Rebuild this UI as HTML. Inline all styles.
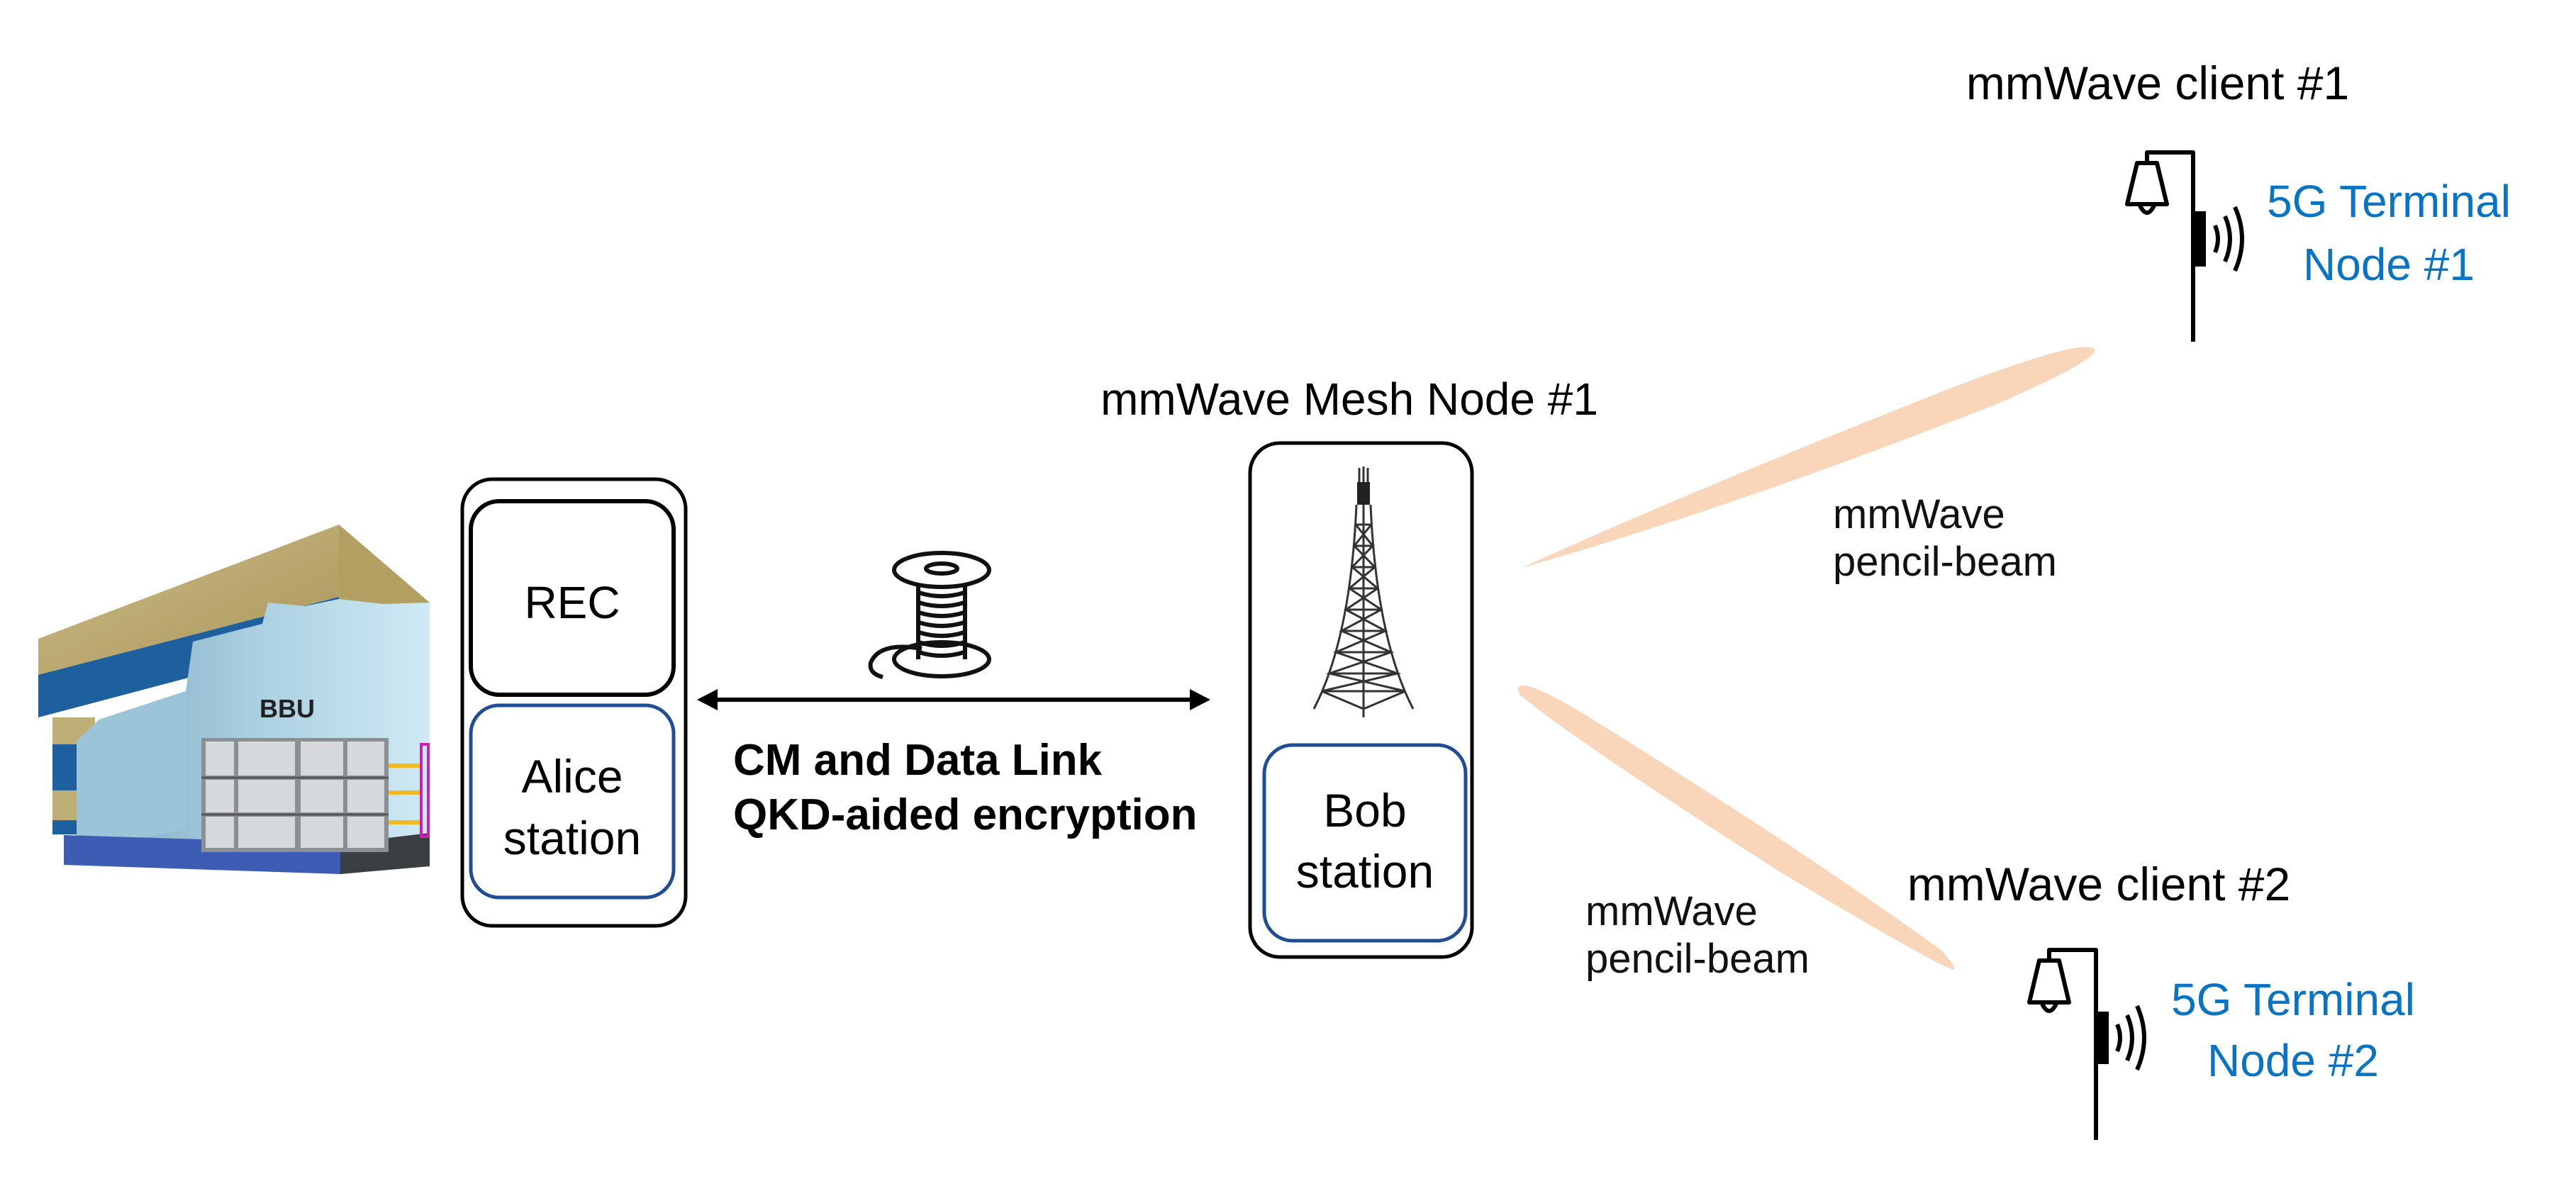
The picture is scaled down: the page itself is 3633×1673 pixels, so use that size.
<!DOCTYPE html>
<html><head><meta charset="utf-8"><style>
html,body{margin:0;padding:0;background:#fff;}
svg{display:block;}
text{font-family:"Liberation Sans",Arial,sans-serif;}
</style></head><body>
<svg width="3633" height="1673" viewBox="0 0 3633 1673" xmlns="http://www.w3.org/2000/svg">
<defs>
<linearGradient id="cut" x1="0" y1="0" x2="1" y2="0">
<stop offset="0" stop-color="#7fa6bd"/><stop offset="0.5" stop-color="#a9cfe0"/><stop offset="1" stop-color="#cfeaf5"/>
</linearGradient>
<linearGradient id="tan" x1="0" y1="0" x2="1" y2="1">
<stop offset="0" stop-color="#cdbd86"/><stop offset="1" stop-color="#a8955a"/>
</linearGradient>
</defs>

<!-- Building (BBU) -->
<polygon points="478,740 606,850 606,1180 478,1060" fill="#b39f62"/>
<polygon points="54,901 478,740 478,842 54,952" fill="url(#tan)"/>
<polygon points="54,952 478,842 478,900 54,1012" fill="#1e5f9e"/>
<rect x="74" y="1012" width="60" height="38" fill="#bfae76"/>
<rect x="74" y="1050" width="60" height="65" fill="#1e5f9e"/>
<rect x="74" y="1115" width="60" height="42" fill="#bfae76"/>
<rect x="74" y="1157" width="60" height="20" fill="#1e5f9e"/>
<polygon points="108,1200 108,1045 140,1015 262,975 272,905 370,880 378,850 430,855 478,845 540,852 606,850 606,1190" fill="url(#cut)"/>
<polygon points="108,1200 108,1045 140,1015 262,975 262,1170" fill="#9cc4d8"/>
<polygon points="90,1178 480,1190 480,1233 90,1220" fill="#3d5db5"/>
<polygon points="480,1190 606,1175 606,1222 480,1233" fill="#3a3f44"/>
<rect x="284" y="1041" width="264" height="161" fill="#8a8f94"/>
<g fill="#d6d9dc">
<rect x="290" y="1046" width="40" height="48"/><rect x="336" y="1046" width="80" height="48"/><rect x="424" y="1046" width="60" height="48"/><rect x="490" y="1046" width="52" height="48"/>
<rect x="290" y="1100" width="40" height="46"/><rect x="336" y="1100" width="80" height="46"/><rect x="424" y="1100" width="60" height="46"/><rect x="490" y="1100" width="52" height="46"/>
<rect x="290" y="1152" width="40" height="44"/><rect x="336" y="1152" width="80" height="44"/><rect x="424" y="1152" width="60" height="44"/><rect x="490" y="1152" width="52" height="44"/>
</g>
<g stroke="#555" stroke-width="3">
<line x1="284" y1="1097" x2="548" y2="1097"/><line x1="284" y1="1149" x2="548" y2="1149"/>
</g>
<g stroke="#f2b920" stroke-width="6"><line x1="548" y1="1080" x2="596" y2="1080"/><line x1="548" y1="1118" x2="596" y2="1118"/><line x1="548" y1="1160" x2="596" y2="1160"/></g>
<rect x="594" y="1050" width="10" height="130" fill="none" stroke="#d01fb0" stroke-width="4"/>
<text x="405" y="1012" font-size="36" font-weight="bold" text-anchor="middle" fill="#222">BBU</text>

<!-- Alice node -->
<rect x="652" y="676" width="315" height="630" rx="42" fill="#fff" stroke="#000" stroke-width="5"/>
<rect x="664" y="707" width="286" height="273" rx="40" fill="#fff" stroke="#000" stroke-width="6"/>
<rect x="664" y="995" width="286" height="271" rx="40" fill="#fff" stroke="#1f4e96" stroke-width="5"/>
<text x="807" y="872" font-size="64" text-anchor="middle" fill="#000">REC</text>
<text x="807" y="1118" font-size="66" text-anchor="middle" fill="#000">Alice</text>
<text x="807" y="1205" font-size="66" text-anchor="middle" fill="#000">station</text>

<!-- Spool -->
<g fill="none" stroke="#111" stroke-width="6">
<ellipse cx="1328" cy="804" rx="67" ry="24"/>
<ellipse cx="1328" cy="802" rx="22" ry="7"/>
<ellipse cx="1328" cy="930" rx="67" ry="24"/>
<path d="M1295,824 L1295,930 M1361,824 L1361,930"/>
<path d="M1296,836 Q1328,846 1360,836 M1296,850 Q1328,860 1360,850 M1296,864 Q1328,874 1360,864 M1296,878 Q1328,888 1360,878 M1296,892 Q1328,902 1360,892 M1296,906 Q1328,916 1360,906 M1296,920 Q1328,930 1360,920"/>
<path d="M1300,915 Q1240,905 1228,935 Q1225,950 1245,955"/>
</g>

<!-- Double arrow -->
<line x1="1000" y1="987" x2="1690" y2="987" stroke="#000" stroke-width="6"/>
<polygon points="983,987 1012,972 1012,1002" fill="#000"/>
<polygon points="1707,987 1678,972 1678,1002" fill="#000"/>
<text x="1034" y="1093" font-size="62" font-weight="bold" fill="#000">CM and Data Link</text>
<text x="1034" y="1170" font-size="62" font-weight="bold" fill="#000">QKD-aided encryption</text>

<!-- Mesh node -->
<text x="1903" y="585" font-size="64" text-anchor="middle" fill="#000">mmWave Mesh Node #1</text>
<rect x="1763" y="625" width="313" height="725" rx="42" fill="#fff" stroke="#000" stroke-width="5"/>
<rect x="1783" y="1051" width="284" height="276" rx="40" fill="#fff" stroke="#1f4e96" stroke-width="5"/>
<text x="1925" y="1166" font-size="66" text-anchor="middle" fill="#000">Bob</text>
<text x="1925" y="1252" font-size="66" text-anchor="middle" fill="#000">station</text>
<!-- tower -->
<rect x="1914" y="680" width="18" height="32" fill="#222"/>
<g stroke="#333" stroke-width="3" fill="none">
<line x1="1917" y1="660" x2="1917" y2="680"/><line x1="1923" y1="658" x2="1923" y2="680"/><line x1="1929" y1="660" x2="1929" y2="680"/>
<path d="M1913,712 Q1905,900 1853,1000"/>
<path d="M1933,712 Q1941,900 1993,1000"/>
<line x1="1923" y1="712" x2="1923" y2="1012"/>
<path d="M1912,740 L1934,740 M1910,770 L1936,770 M1907,800 L1939,800 M1903,830 L1943,830 M1898,860 L1948,860 M1892,890 L1954,890 M1884,920 L1962,920 M1875,950 L1971,950 M1864,975 L1982,975"/>
<path d="M1912,740 L1936,770 L1907,800 L1943,830 L1898,860 L1954,890 L1884,920 L1971,950 L1864,975"/>
<path d="M1934,740 L1910,770 L1939,800 L1903,830 L1948,860 L1892,890 L1962,920 L1875,950 L1982,975"/>
<line x1="1864" y1="975" x2="1923" y2="1000"/><line x1="1982" y1="975" x2="1923" y2="1000"/>
</g>

<!-- Beams -->
<g transform="translate(2146,801) rotate(-20.45)">
<path d="M0,0 Q250,-18 650,-26 Q860,-28 865,-6 Q862,10 700,18 Q300,24 0,0Z" fill="#f9d6ba"/>
</g>
<g transform="translate(2143,968) rotate(32.7)">
<path d="M0,0 Q8,-14 100,-16 Q450,-22 700,-8 Q735,0 731,6 Q700,14 450,22 Q100,22 8,10 Q-3,5 0,0Z" fill="#f9d6ba"/>
</g>
<text x="2585" y="745" font-size="58" fill="#111">mmWave</text>
<text x="2585" y="812" font-size="58" fill="#111">pencil-beam</text>
<text x="2236" y="1305" font-size="58" fill="#111">mmWave</text>
<text x="2236" y="1372" font-size="58" fill="#111">pencil-beam</text>

<!-- Client 1 -->
<text x="3043" y="140" font-size="66" text-anchor="middle" fill="#000">mmWave client #1</text>
<g stroke="#000" stroke-width="6" fill="none" stroke-linejoin="round">
<path d="M3093,482 L3093,215 L3028,215 L3028,230"/>
<path d="M3014,230 L3042,230 L3056,288 L3000,288 Z"/>
<path d="M3018,290 Q3028,310 3038,290"/>
<path d="M3124,318 Q3132,337 3124,356"/>
<path d="M3138,305 Q3152,337 3138,369"/>
<path d="M3152,292 Q3172,337 3152,382"/>
</g>
<rect x="3093" y="298" width="18" height="78" fill="#000"/>
<text x="3369" y="306" font-size="64" text-anchor="middle" fill="#0a74c4">5G Terminal</text>
<text x="3369" y="395" font-size="64" text-anchor="middle" fill="#0a74c4">Node #1</text>

<!-- Client 2 -->
<text x="2960" y="1270" font-size="66" text-anchor="middle" fill="#000">mmWave client #2</text>
<g stroke="#000" stroke-width="6" fill="none" stroke-linejoin="round">
<path d="M2956,1608 L2956,1340 L2890,1340 L2890,1355"/>
<path d="M2876,1355 L2904,1355 L2918,1414 L2862,1414 Z"/>
<path d="M2880,1416 Q2890,1436 2900,1416"/>
<path d="M2986,1445 Q2994,1464 2986,1483"/>
<path d="M3000,1432 Q3014,1464 3000,1496"/>
<path d="M3014,1419 Q3034,1464 3014,1509"/>
</g>
<rect x="2956" y="1427" width="18" height="74" fill="#000"/>
<text x="3234" y="1432" font-size="64" text-anchor="middle" fill="#0a74c4">5G Terminal</text>
<text x="3234" y="1518" font-size="64" text-anchor="middle" fill="#0a74c4">Node #2</text>
</svg>
</body></html>
